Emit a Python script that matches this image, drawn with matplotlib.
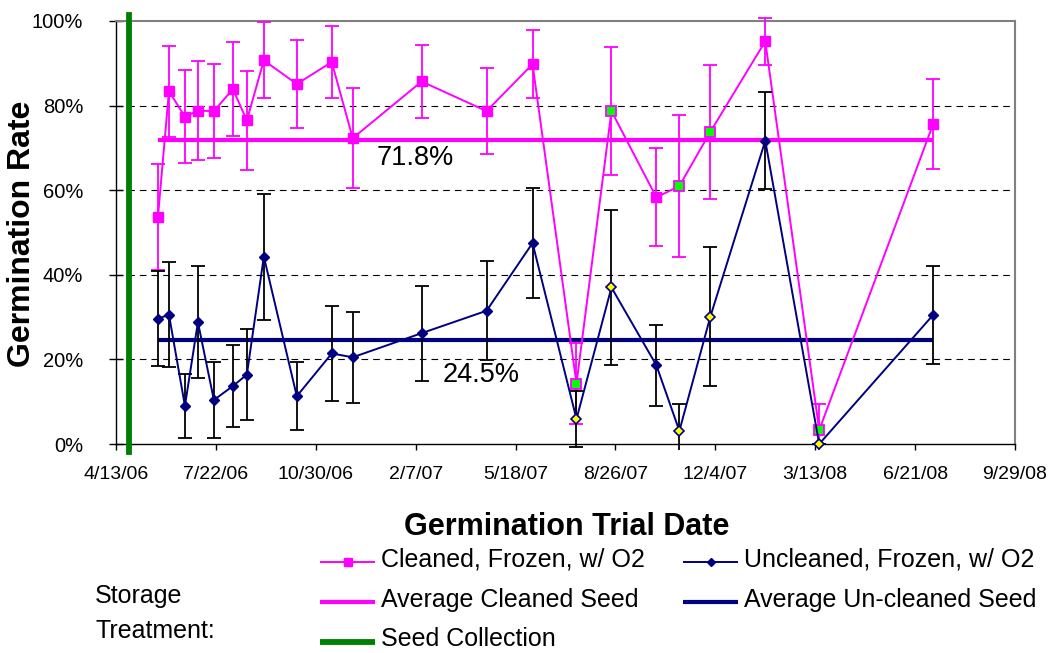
import matplotlib
matplotlib.use("Agg")
import matplotlib.pyplot as plt
from matplotlib.lines import Line2D
from matplotlib.patches import Rectangle
from matplotlib.ticker import FuncFormatter, FixedLocator
import matplotlib.dates as mdates
import datetime as dt

plt.rcParams['font.family'] = ['Liberation Sans', 'DejaVu Sans']

# ---------------- data ----------------
trial_dates = ["2006-05-25", "2006-06-05", "2006-06-21", "2006-07-04", "2006-07-20",
               "2006-08-08", "2006-08-22", "2006-09-08", "2006-10-11", "2006-11-15",
               "2006-12-06", "2007-02-13", "2007-04-19", "2007-06-04", "2007-07-18",
               "2007-08-22", "2007-10-06", "2007-10-29", "2007-11-29", "2008-01-23",
               "2008-03-17", "2008-07-09"]
cleaned = [53.7, 83.4, 77.4, 78.8, 78.7, 83.9, 76.5, 90.7, 85.1, 90.3, 72.3,
           85.7, 78.7, 89.8, 14.3, 78.7, 58.3, 61.0, 73.8, 95.2, 3.3, 75.6]
cleaned_err = [12.6, 10.8, 11.0, 11.7, 11.2, 11.2, 11.7, 9.0, 10.3, 8.4, 11.8,
               8.7, 10.2, 8.0, 9.6, 15.1, 11.6, 16.7, 15.8, 5.6, 6.2, 10.6]
uncleaned = [29.6, 30.6, 9.0, 28.8, 10.4, 13.7, 16.4, 44.3, 11.3, 21.4, 20.5,
             26.2, 31.5, 47.5, 5.9, 37.0, 18.6, 3.1, 30.1, 71.7, 0.0, 30.5]
uncleaned_err = [11.2, 12.5, 7.5, 13.3, 9.0, 9.6, 10.8, 14.9, 8.1, 11.2, 10.8,
                 11.2, 11.7, 13.0, 6.6, 18.3, 9.6, 6.4, 16.5, 11.4, 0.0, 11.5]
# trials flagged with a different marker fill
flagged = [False] * 14 + [True, True, False, True, True, False, True, False]

avg_cleaned = 71.8
avg_uncleaned = 24.5
avg_labels = ["71.8%", "24.5%"]
avg_label_dates = ["2006-12-30", "2007-03-06"]
avg_label_y = [66.0, 14.6]

seed_collection = "2006-04-26"
x_start = "2006-04-13"
x_step_days = 100
n_xticks = 10
y_ticks = [0, 20, 40, 60, 80, 100]

legend_labels = ["Cleaned, Frozen, w/ O2", "Uncleaned, Frozen, w/ O2",
                 "Average Cleaned Seed", "Average Un-cleaned Seed", "Seed Collection"]

# ---------------- style ----------------
MAG = '#FF00FF'
NAVY = '#000080'
GREEN = '#008000'
W, H = 1052, 653

def d(s):
    return dt.datetime.strptime(s, "%Y-%m-%d")

dates = [d(s) for s in trial_dates]
start = d(x_start)
xticks = [start + dt.timedelta(days=x_step_days * i) for i in range(n_xticks)]

fig = plt.figure(figsize=(W / 100, H / 100), dpi=100)
ax = fig.add_axes([116 / W, 1 - 444 / H, (1015 - 116) / W, (444 - 21) / H])

clip_rect = Rectangle((0, -0.015), 1, 1.03, transform=ax.transAxes, fill=False, visible=False)
ax.add_patch(clip_rect)

def clip_err(container):
    for art in list(container.lines[1]) + list(container.lines[2]):
        art.set_clip_path(clip_rect)

# average lines
ax.plot([dates[0], dates[-1]], [avg_cleaned, avg_cleaned], color=MAG, lw=3, zorder=2,
        solid_capstyle='butt')
ax.plot([dates[0], dates[-1]], [avg_uncleaned, avg_uncleaned], color=NAVY, lw=3, zorder=2,
        solid_capstyle='butt')

# cleaned series
ec = ax.errorbar(dates, cleaned, yerr=cleaned_err, fmt='none', ecolor=MAG, elinewidth=1.3,
                 capsize=4.7, capthick=1.3, zorder=3)
clip_err(ec)
ax.plot(dates, cleaned, color=MAG, lw=1.4, zorder=3)
nd = [x for x, f in zip(dates, flagged) if not f]
fd = [x for x, f in zip(dates, flagged) if f]
ax.plot(nd, [v for v, f in zip(cleaned, flagged) if not f], ls='none', marker='s',
        ms=6.5, mfc=MAG, mec=MAG, zorder=4)
ax.plot(fd, [v for v, f in zip(cleaned, flagged) if f], ls='none', marker='s',
        ms=6.5, mfc='#00FF00', mec=MAG, mew=1.3, zorder=4)

# uncleaned series
eu = ax.errorbar(dates, uncleaned, yerr=uncleaned_err, fmt='none', ecolor='black',
                 elinewidth=1.3, capsize=4.7, capthick=1.3, zorder=5)
clip_err(eu)
ax.plot(dates, uncleaned, color=NAVY, lw=1.4, zorder=5)
ax.plot(nd, [v for v, f in zip(uncleaned, flagged) if not f], ls='none', marker='D',
        ms=5.6, mfc=NAVY, mec=NAVY, zorder=6)
ax.plot(fd, [v for v, f in zip(uncleaned, flagged) if f], ls='none', marker='D',
        ms=5.6, mfc='#FFFF00', mec=NAVY, mew=1.2, zorder=6, clip_on=False)

# seed collection line
ax.axvline(d(seed_collection), ymin=-0.02, ymax=1.015, color=GREEN, lw=4.2, clip_on=False,
           zorder=7)

# average labels
for lab, ld, ly in zip(avg_labels, avg_label_dates, avg_label_y):
    ax.text(d(ld), ly, lab, fontsize=19.5, ha='left', va='baseline', zorder=8)

# axes
ax.set_xlim(xticks[0], xticks[-1])
ax.set_ylim(0, 100)
ax.xaxis.set_major_locator(FixedLocator(mdates.date2num(xticks)))
ax.xaxis.set_major_formatter(FuncFormatter(
    lambda v, p: (lambda t: f"{t.month}/{t.day}/{t:%y}")(mdates.num2date(v))))
ax.yaxis.set_major_locator(FixedLocator(y_ticks))
ax.yaxis.set_major_formatter(FuncFormatter(lambda v, p: f"{v:.0f}%"))
ax.tick_params(axis='y', direction='inout', length=10, width=1, pad=18.5, labelsize=14.5)
ax.tick_params(axis='x', direction='out', length=4.5, width=1, pad=11, labelsize=14)

ax.yaxis.grid(True, linestyle=(0, (6, 4.5)), color='black', lw=0.8)
ax.set_axisbelow(True)
gl = ax.yaxis.get_gridlines()
gl[0].set_visible(False)
gl[-1].set_visible(False)

for s in ['top', 'right']:
    ax.spines[s].set_color('#808080')
    ax.spines[s].set_linewidth(1.5)
for s in ['left', 'bottom']:
    ax.spines[s].set_color('black')
    ax.spines[s].set_linewidth(1)

fig.text(22.5 / W, 1 - 234 / H, "Germination Rate", rotation=90, fontsize=23,
         fontweight='bold', ha='center', va='center')
fig.text(567 / W, 1 - 535 / H, "Germination Trial Date", fontsize=22,
         fontweight='bold', ha='center', va='baseline')

# legend (manual)
def entry(x0, x1, yc, yb, text, lw, color, marker=None, ms=0):
    fig.add_artist(Line2D([x0 / W, x1 / W], [1 - yc / H, 1 - yc / H], transform=fig.transFigure,
                          color=color, lw=lw, solid_capstyle='butt'))
    if marker:
        fig.add_artist(Line2D([(x0 + x1) / 2 / W], [1 - yc / H], transform=fig.transFigure,
                              color=color, marker=marker, ms=ms, ls='none'))
    fig.text((x1 + 6) / W, 1 - yb / H, text, fontsize=18, ha='left', va='baseline')

entry(320, 375, 561.7, 566.5, legend_labels[0], 1.4, MAG, 's', 5.5)
entry(683, 738, 561.7, 566.5, legend_labels[1], 1.4, NAVY, 'D', 4.5)
entry(320, 375, 601.7, 606.5, legend_labels[2], 3, MAG)
entry(683, 738, 601.7, 606.5, legend_labels[3], 3, NAVY)
entry(320, 375, 641.7, 646.5, legend_labels[4], 4.2, GREEN)
fig.text(95 / W, 1 - 603 / H, "Storage", fontsize=18, ha='left', va='baseline')
fig.text(95 / W, 1 - 638.5 / H, "Treatment:", fontsize=18, ha='left', va='baseline')

fig.savefig("out.png", dpi=100)
